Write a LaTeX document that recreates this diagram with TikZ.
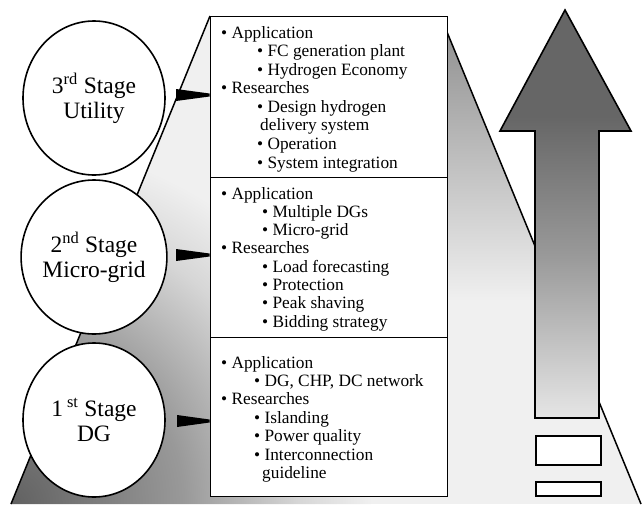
\documentclass[tikz,border=0pt]{standalone}
\usepackage{fontspec}
\setmainfont{Liberation Serif}
\usetikzlibrary{shapes.geometric}
\colorlet{glowdark}{black!62}
\colorlet{glowmid}{black!40}
\colorlet{glowsoft}{black!16}
\colorlet{glowlight}{black!6}
\colorlet{arrdark}{black!60}
\colorlet{arrmid}{black!40}
\colorlet{arrlight}{black!10}
\pgfdeclareradialshading{cornerglow}{\pgfpoint{0bp}{0bp}}{color(0bp)=(glowdark); color(12bp)=(glowmid); color(20bp)=(glowsoft); color(25bp)=(glowlight); color(50bp)=(glowlight)}
\pgfdeclareverticalshading{arrowfade}{100bp}{color(0bp)=(arrlight); color(25bp)=(arrlight); color(45bp)=(arrmid); color(62bp)=(arrdark); color(75bp)=(arrdark); color(100bp)=(arrdark)}
\begin{document}
\begin{tikzpicture}[x=1pt,y=-1pt,
  stage/.style={ellipse,draw,line width=1.6pt,fill=white,minimum width=142pt,minimum height=154pt,inner sep=0pt,align=center,font=\fontsize{23.5}{25}\selectfont},
  panel/.style={draw,line width=1.6pt,fill=white},
  txt/.style={anchor=base west,inner sep=0pt,font=\fontsize{17.3}{18.4}\selectfont},
  edge/.style={line width=1.5pt},
  wedge/.style={fill=black},
  bigarrow/.style={draw,line width=1.6pt,shading=arrowfade},
  slot/.style={draw,line width=1.6pt,fill=white}]
\useasboundingbox (0,0) rectangle (643,504);
% coordinates of the perspective band
\coordinate (tl) at (210,16);
\coordinate (tr) at (447,32);
\coordinate (bl) at (11,504);
\coordinate (br) at (641,504);
% shaded band
\begin{scope}
  \clip (tl) -- (447,16) -- (tr) -- (br) -- (bl) -- cycle;
  \fill[glowlight] (0,0) rectangle (643,504);
  \shade[top color=black!45,bottom color=glowlight] (447,16) rectangle (643,300);
  \shade[shading=cornerglow] (11,504) circle[radius=360pt];
\end{scope}
\draw[edge] (tl) -- (bl);
\draw[edge] (tr) -- (br);
% stage circles
\node[stage] (s3) at (94,98) {3\textsuperscript{rd} Stage\\Utility};
\node[stage] (s2) at (94,257) {2\textsuperscript{nd} Stage\\Micro-grid};
\node[stage] (s1) at (94,420) {1\,\textsuperscript{st} Stage\\DG};
% panels
\node[panel,minimum width=237pt,minimum height=161pt,anchor=north west,inner sep=0pt] (p3) at (209.5,15.5) {};
\node[panel,minimum width=237pt,minimum height=160pt,anchor=north west,inner sep=0pt] (p2) at (209.5,176.5) {};
\node[panel,minimum width=237pt,minimum height=159pt,anchor=north west,inner sep=0pt] (p1) at (209.5,336.5) {};
% wedges pointing from panels to circles
\fill[wedge] (176,89) -- (176,101) -- (p3.west |- 0,96.5) -- (p3.west |- 0,93.5) -- cycle;
\fill[wedge] (176,249) -- (176,261) -- (p2.west |- 0,256.5) -- (p2.west |- 0,253.5) -- cycle;
\fill[wedge] (177,415) -- (177,427) -- (p1.west |- 0,422.5) -- (p1.west |- 0,419.5) -- cycle;
% panel 3 text
\node[txt] (a1) at (221,38) {\textbullet\ Application};
\node[txt] (a2) at (257,56.6) {\textbullet\ FC generation plant};
\node[txt] (a3) at (257,75.1) {\textbullet\ Hydrogen Economy};
\node[txt] (a4) at (221,93.7) {\textbullet\ Researches};
\node[txt] (a5) at (257,112.3) {\textbullet\ Design hydrogen};
\node[txt] (a6) at (260,130.9) {delivery system};
\node[txt] (a7) at (257,149.4) {\textbullet\ Operation};
\node[txt] (a8) at (257,168) {\textbullet\ System integration};
% panel 2 text
\node[txt] (b1) at (221,199) {\textbullet\ Application};
\node[txt] (b2) at (262,217.3) {\textbullet\ Multiple DGs};
\node[txt] (b3) at (262,235.6) {\textbullet\ Micro-grid};
\node[txt] (b4) at (221,253.9) {\textbullet\ Researches};
\node[txt] (b5) at (262,272.2) {\textbullet\ Load forecasting};
\node[txt] (b6) at (262,290.5) {\textbullet\ Protection};
\node[txt] (b7) at (262,308.8) {\textbullet\ Peak shaving};
\node[txt] (b8) at (262,327.1) {\textbullet\ Bidding strategy};
% panel 1 text
\node[txt] (c1) at (221,368) {\textbullet\ Application};
\node[txt] (c2) at (254,386.4) {\textbullet\ DG, CHP, DC network};
\node[txt] (c3) at (221,404.8) {\textbullet\ Researches};
\node[txt] (c4) at (254,423.2) {\textbullet\ Islanding};
\node[txt] (c5) at (254,441.6) {\textbullet\ Power quality};
\node[txt] (c6) at (254,460) {\textbullet\ Interconnection};
\node[txt] (c7) at (262,478.4) {guideline};
% big up arrow
\path[bigarrow] (565,10) -- (631,131) -- (599,131) -- (599,418) -- (535,418) -- (535,131) -- (500,131) -- cycle;
% slots below the arrow
\node[slot,minimum width=65pt,minimum height=29pt,anchor=north west,inner sep=0pt] (r1) at (535,435) {};
\node[slot,minimum width=65pt,minimum height=14pt,anchor=north west,inner sep=0pt] (r2) at (535,481) {};
\end{tikzpicture}
\end{document}
